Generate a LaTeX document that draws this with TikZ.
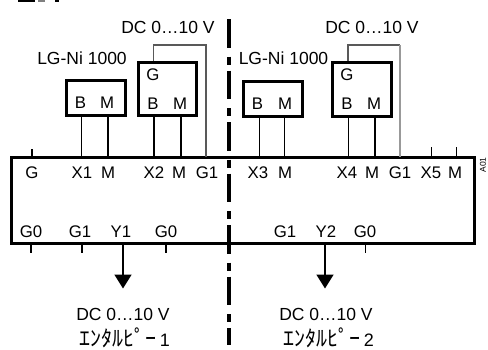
\documentclass[tikz,border=0pt]{standalone}
\usepackage{fontspec}
\setmainfont{Liberation Sans}
\newfontfamily\jpfont{Noto Sans CJK JP}
\usetikzlibrary{arrows.meta}
\definecolor{wiregray}{gray}{0.35}
\definecolor{wirelight}{gray}{0.6}
\tikzset{
  x=1pt,y=-1pt,
  lbl/.style={inner sep=0pt,font=\fontsize{16.8}{18}\selectfont},
  bigl/.style={inner sep=0pt,font=\fontsize{17.5}{19}\selectfont},
  jpl/.style={inner sep=0pt,font=\fontsize{18}{19}\selectfont},
  sensor/.style={draw,line width=3pt,inner sep=0pt},
  wire/.style={line width=1.1pt},
  wirethick/.style={line width=1.7pt},
  stub/.style={line width=1.1pt},
  output/.style={line width=1.8pt,-{Triangle[length=14pt,width=17pt]}},
}
\newcommand{\jpname}[1]{{\jpfont\fontsize{22}{22}\selectfont ｴﾝﾀﾙﾋﾟｰ}\,{#1}}
\begin{document}
\begin{tikzpicture}
\useasboundingbox (0,0) rectangle (488,349);
% clipped heading remnant
\fill (18,0) rectangle (35,2);
\fill[gray] (38,0) rectangle (45,1.5);
\fill (55,0) rectangle (59,2);
% main box
\node[draw,line width=3pt,inner sep=0pt,minimum width=463pt,minimum height=86pt] (main) at (242.5,200) {};
% sensors
\node[sensor,minimum width=59pt,minimum height=35pt] (s1) at (95.5,97.5) {};
\node[sensor,minimum width=58pt,minimum height=53pt] (s2) at (167,88.5) {};
\node[sensor,minimum width=59pt,minimum height=35pt] (s3) at (272.5,98.5) {};
\node[sensor,minimum width=59pt,minimum height=54pt] (s4) at (361.5,89) {};
% sensor text
\node[lbl] (s1b) at (80.5,103) {B};
\node[lbl] (s1m) at (107,103) {M};
\node[lbl] (s2g) at (153,75) {G};
\node[lbl] (s2b) at (153,103.5) {B};
\node[lbl] (s2m) at (180,103.5) {M};
\node[lbl] (s3b) at (257.5,103.5) {B};
\node[lbl] (s3m) at (285,103.5) {M};
\node[lbl] (s4g) at (347,75) {G};
\node[lbl] (s4b) at (347,103.5) {B};
\node[lbl] (s4m) at (374,103.5) {M};
% upper terminals
\node[lbl] (tg) at (32,172.5) {G};
\node[lbl] (tx1) at (82,172.5) {X1};
\node[lbl] (tm1) at (108,172.5) {M};
\node[lbl] (tx2) at (154,172.5) {X2};
\node[lbl] (tm2) at (179,172.5) {M};
\node[lbl] (tg1) at (207,172.5) {G1};
\node[lbl] (tx3) at (258,172.5) {X3};
\node[lbl] (tm3) at (285,172.5) {M};
\node[lbl] (tx4) at (347,172.5) {X4};
\node[lbl] (tm4) at (372,172.5) {M};
\node[lbl] (tg2) at (400,172.5) {G1};
\node[lbl] (tx5) at (431,172.5) {X5};
\node[lbl] (tm5) at (455,172.5) {M};
% lower terminals
\node[lbl] (bg0) at (31,232) {G0};
\node[lbl] (bg1) at (80,232) {G1};
\node[lbl] (by1) at (121,232) {Y1};
\node[lbl] (bg2) at (166,232) {G0};
\node[lbl] (bg3) at (285,232) {G1};
\node[lbl] (by2) at (326,232) {Y2};
\node[lbl] (bg4) at (365,232) {G0};
% wires: sensor to terminal
\coordinate (a1) at (81.5,115); \coordinate (a2) at (81.5,157);
\coordinate (b1) at (108,115);  \coordinate (b2) at (108,157);
\coordinate (c1) at (154,115);  \coordinate (c2) at (154,157);
\coordinate (d1) at (181,115);  \coordinate (d2) at (181,157);
\coordinate (e1) at (259.5,116);\coordinate (e2) at (259.5,157);
\coordinate (f1) at (284.5,116);\coordinate (f2) at (284.5,157);
\coordinate (g1) at (348.5,116);\coordinate (g2) at (348.5,157);
\coordinate (h1) at (375,116);  \coordinate (h2) at (375,157);
\draw[wire] (a1) -- (a2);
\draw[wire] (b1) -- (b2);
\draw[wirethick] (c1) -- (c2);
\draw[wirethick] (d1) -- (d2);
\draw[wire] (e1) -- (e2);
\draw[wire] (f1) -- (f2);
\draw[wire] (g1) -- (g2);
\draw[line width=2.2pt] (h1) -- (h2);
% signal loops
\coordinate (l1a) at (153.5,61); \coordinate (l1b) at (206,45); \coordinate (l1c) at (206,157);
\coordinate (l2a) at (348,61);   \coordinate (l2b) at (400,45); \coordinate (l2c) at (400,157);
\draw[wiregray,line width=1.2pt] (l1a) |- (l1b) -- (l1c);
\draw[wiregray,line width=1.2pt] (l2a) |- (l2b);
\draw[wirelight,line width=1.2pt] (l2b) -- (l2c);
% stubs
\coordinate (st1) at (32,149);    \coordinate (st1b) at (32,157);
\coordinate (st2) at (431.5,147); \coordinate (st2b) at (431.5,157);
\coordinate (st3) at (456.5,147); \coordinate (st3b) at (456.5,157);
\draw[line width=1.7pt] (st1) -- (st1b);
\draw[stub] (st2) -- (st2b);
\draw[stub] (st3) -- (st3b);
\coordinate (u1) at (31,243); \coordinate (u1b) at (31,253);
\coordinate (u2) at (82,243); \coordinate (u2b) at (82,253);
\coordinate (u3) at (166,243); \coordinate (u3b) at (166,253);
\coordinate (u4) at (365.5,243); \coordinate (u4b) at (365.5,253);
\draw[line width=1.7pt] (u1) -- (u1b);
\draw[line width=1.7pt] (u2) -- (u2b);
\draw[line width=1.7pt] (u3) -- (u3b);
\draw[stub] (u4) -- (u4b);
% outputs
\coordinate (o1) at (123,243); \coordinate (o1b) at (123,288.5);
\coordinate (o2) at (325,243); \coordinate (o2b) at (325,288.5);
\draw[output] (o1) -- (o1b);
\draw[output] (o2) -- (o2b);
% separator
\coordinate (sepa) at (229,19); \coordinate (sepb) at (229,345);
\draw[line width=4.6pt,dash pattern=on 28.5pt off 9pt on 8pt off 6pt] (sepa) -- (sepb);
% captions
\node[bigl] (dc1) at (168,27) {DC 0…10 V};
\node[bigl] (dc2) at (372,27) {DC 0…10 V};
\node[bigl] (ni1) at (82,58) {LG-Ni 1000};
\node[bigl] (ni2) at (283.5,58) {LG-Ni 1000};
\node[bigl] (dc3) at (123,314) {DC 0…10 V};
\node[bigl] (dc4) at (326,314) {DC 0…10 V};
\node[jpl,anchor=base] (en1) at (125,346) {\jpname{1}};
\node[jpl,anchor=base] (en2) at (329,346) {\jpname{2}};
\node[inner sep=0pt,rotate=90,font=\fontsize{8.5}{9}\selectfont] (a01) at (483,165) {A01};
\end{tikzpicture}
\end{document}
